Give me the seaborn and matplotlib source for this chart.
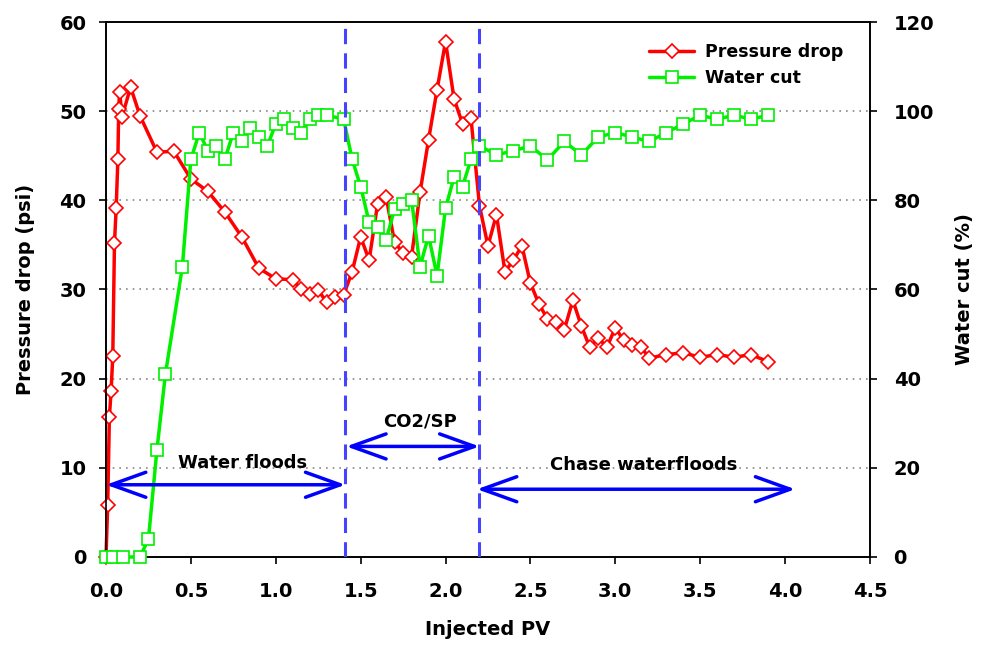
import numpy as np
import pandas as pd
import matplotlib
matplotlib.use("Agg")
import matplotlib.pyplot as plt
from matplotlib.lines import Line2D
import seaborn as sns

# 圧力損失 (psi)
pv_dp = [0.0, 0.01, 0.02, 0.03, 0.04, 0.05, 0.06, 0.07, 0.075, 0.08, 0.095, 0.145, 0.2,
         0.3, 0.4, 0.5, 0.6, 0.7, 0.8, 0.9, 1.0, 1.1, 1.15, 1.2, 1.25, 1.3, 1.35, 1.4,
         1.45, 1.5, 1.55, 1.6, 1.65, 1.7, 1.75, 1.8, 1.85, 1.9, 1.95, 2.0, 2.05, 2.1,
         2.15, 2.2, 2.25, 2.3, 2.35, 2.4, 2.45, 2.5, 2.55, 2.6, 2.65, 2.7, 2.75, 2.8,
         2.85, 2.9, 2.95, 3.0, 3.05, 3.1, 3.15, 3.2, 3.3, 3.4, 3.5, 3.6, 3.7, 3.8, 3.9]
pressure_drop = [0.0, 5.8, 15.7, 18.6, 22.5, 35.2, 39.1, 44.6, 50.2, 52.2, 49.4, 52.7, 49.5,
                 45.4, 45.5, 42.4, 41.0, 38.7, 35.9, 32.4, 31.2, 31.1, 30.0, 29.5, 29.9, 28.6, 29.2, 29.4,
                 32.0, 35.9, 33.3, 39.6, 40.4, 35.3, 34.1, 33.7, 40.9, 46.8, 52.4, 57.8, 51.4, 48.6,
                 49.2, 39.4, 34.9, 38.4, 32.0, 33.3, 34.9, 30.7, 28.4, 26.7, 26.4, 25.5, 28.8, 25.9,
                 23.5, 24.6, 23.5, 25.7, 24.3, 23.8, 23.6, 22.3, 22.7, 22.9, 22.4, 22.7, 22.4, 22.7, 21.9]

# 含水率 (%)
pv_wc = [0.0, 0.04, 0.1, 0.2, 0.25, 0.3, 0.35, 0.45, 0.5, 0.55, 0.6, 0.65, 0.7, 0.75, 0.8,
         0.85, 0.9, 0.95, 1.0, 1.05, 1.1, 1.15, 1.2, 1.25, 1.3, 1.4,
         1.45, 1.5, 1.55, 1.6, 1.65, 1.7, 1.75, 1.8, 1.85, 1.9, 1.95, 2.0, 2.05, 2.1, 2.15,
         2.2, 2.3, 2.4, 2.5, 2.6, 2.7, 2.8, 2.9, 3.0, 3.1, 3.2, 3.3, 3.4, 3.5, 3.6, 3.7, 3.8, 3.9]
water_cut = [0.0, 0.0, 0.0, 0.0, 4.0, 24.0, 41.0, 65.1, 89.2, 95.2, 91.1, 92.2, 89.2, 95.2, 93.2,
             96.2, 94.2, 92.2, 97.1, 98.2, 96.2, 95.2, 98.2, 99.1, 99.1, 98.2,
             89.2, 83.1, 75.1, 74.1, 71.1, 78.1, 79.2, 80.1, 65.1, 72.1, 63.1, 78.2, 85.2, 83.1, 89.2,
             92.2, 90.2, 91.1, 92.2, 89.1, 93.2, 90.2, 94.2, 95.2, 94.2, 93.2, 95.2, 97.1, 99.1, 98.2, 99.1, 98.2, 99.1]

stage_bounds = [1.41, 2.195]

df_dp = pd.DataFrame({"pv": pv_dp, "dp": pressure_drop})
df_wc = pd.DataFrame({"pv": pv_wc, "wc": water_cut})

sns.set_theme(style="ticks")
plt.rcParams["font.family"] = ["DejaVu Sans"]
plt.rcParams["font.weight"] = "bold"
plt.rcParams["text.color"] = "black"
plt.rcParams["axes.labelcolor"] = "black"
plt.rcParams["xtick.color"] = "black"
plt.rcParams["ytick.color"] = "black"

fig = plt.figure(figsize=(9.85, 6.59), dpi=100)
ax = fig.add_axes([0.1076, 0.1548, 0.7756, 0.8118])
ax2 = ax.twinx()

red = "#ff0000"
green = "#00f000"
blue = "#0000ff"

sns.lineplot(data=df_dp, x="pv", y="dp", ax=ax, sort=False, estimator=None,
             color=red, lw=2.5, marker="D", markersize=7.5, markerfacecolor="white",
             markeredgecolor=red, markeredgewidth=1.2, clip_on=False, zorder=3)
sns.lineplot(data=df_wc, x="pv", y="wc", ax=ax2, sort=False, estimator=None,
             color=green, lw=2.5, marker="s", markersize=8, markerfacecolor="white",
             markeredgecolor=green, markeredgewidth=1.2, clip_on=False, zorder=3)

ax.set_xlim(0, 4.5)
ax.set_ylim(0, 60)
ax2.set_ylim(0, 120)
ax.set_xticks(np.arange(0, 4.51, 0.5))
ax.set_xticklabels([f"{v:.1f}" for v in np.arange(0, 4.51, 0.5)])
ax.set_yticks(range(0, 61, 10))
ax2.set_yticks(range(0, 121, 20))

# 点線のグリッド
for yy in range(10, 60, 10):
    ax.axhline(yy, color="#888888", ls=(0, (1, 3)), lw=1.2, zorder=0)

for a in (ax, ax2):
    a.tick_params(axis="both", direction="out", length=5, width=1.2, labelsize=14,
                  colors="black", labelcolor="black")
    for lab in a.get_xticklabels() + a.get_yticklabels():
        lab.set_fontweight("bold")
    for sp in a.spines.values():
        sp.set_linewidth(1.2)
        sp.set_color("black")
        sp.set_visible(True)
ax.tick_params(axis="x", pad=13)
ax.tick_params(axis="y", pad=9)
ax2.tick_params(axis="y", pad=12)

ax.set_xlabel("Injected PV", fontsize=14, fontweight="bold", labelpad=14, color="black")
ax.set_ylabel("Pressure drop (psi)", fontsize=14, fontweight="bold", labelpad=18, color="black")
ax2.set_ylabel("Water cut (%)", fontsize=14, fontweight="bold", labelpad=15, color="black")

# 区間の境界線
for xb in stage_bounds:
    ax2.axvline(xb, color="#4444ff", lw=2.2, dashes=(5, 3), zorder=5)

arrow = dict(arrowstyle="<->,head_length=1.25,head_width=0.45", color=blue, lw=2.5,
             mutation_scale=20, shrinkA=0, shrinkB=0)
ax2.annotate("", xy=(0.0, 8.1), xytext=(1.41, 8.1), xycoords=ax.transData,
             textcoords=ax.transData, arrowprops=arrow, zorder=6)
ax2.annotate("", xy=(1.415, 12.4), xytext=(2.2, 12.4), xycoords=ax.transData,
             textcoords=ax.transData, arrowprops=arrow, zorder=6)
ax2.annotate("", xy=(2.185, 7.6), xytext=(4.06, 7.6), xycoords=ax.transData,
             textcoords=ax.transData, arrowprops=arrow, zorder=6)
ax.text(0.807, 10.5, "Water floods", ha="center", va="center", fontsize=13, fontweight="bold",
        color="black")
ax.text(1.85, 15.2, "CO2/SP", ha="center", va="center", fontsize=13, fontweight="bold",
        color="black")
ax.text(3.17, 10.3, "Chase waterfloods", ha="center", va="center", fontsize=13, fontweight="bold",
        color="black")

handles = [
    Line2D([], [], color=red, lw=2.5, marker="D", markersize=7.5, markerfacecolor="white",
           markeredgecolor=red, markeredgewidth=1.2),
    Line2D([], [], color=green, lw=2.5, marker="s", markersize=8, markerfacecolor="white",
           markeredgecolor=green, markeredgewidth=1.2),
]
leg = ax2.legend(handles, ["Pressure drop", "Water cut"], loc="upper right",
                 bbox_to_anchor=(0.985, 0.99), frameon=False, prop={"size": 12.5, "weight": "bold"},
                 handlelength=2.6, handletextpad=0.6, labelspacing=0.45)
for t in leg.get_texts():
    t.set_color("black")

fig.savefig("out.png", dpi=100)
